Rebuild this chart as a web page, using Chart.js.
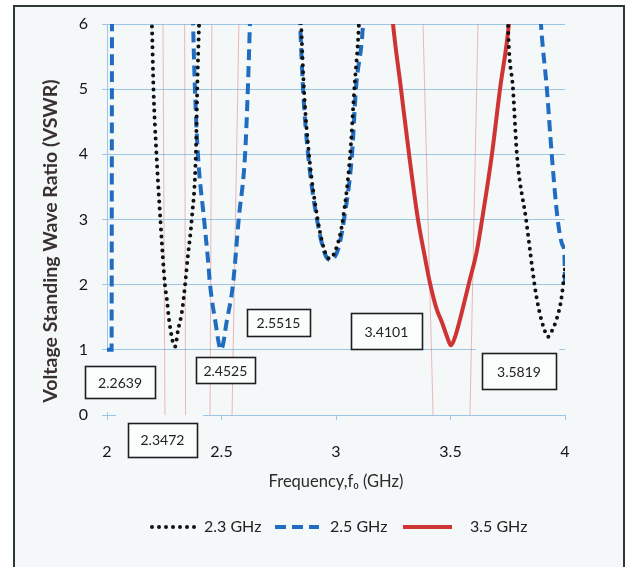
<!DOCTYPE html>
<html>
<head>
<meta charset="utf-8">
<script src="https://cdn.jsdelivr.net/npm/chart.js@4.4.0/dist/chart.umd.min.js"></script>
<style>
  html, body { margin: 0; padding: 0; background: #fff; overflow: hidden; }
  #frame { position: absolute; left: 13px; top: 5px; width: 608px; height: 600px; border: 2px solid #2e3838; background: #f4f8f8; }
  #wrap { position: absolute; left: 0; top: 0; width: 632px; height: 567px; }
</style>
</head>
<body>
<div id="frame"></div>
<div id="wrap"><canvas id="chart" width="632" height="567"></canvas></div>
<script>
// 2.3 GHz design (dotted)
const freq23 = [2.17, 2.196, 2.203, 2.216, 2.233, 2.253, 2.262, 2.271, 2.297, 2.310, 2.328, 2.341, 2.352, 2.370, 2.388, 2.394, 2.402, 2.42,
  2.62, 2.83, 2.848, 2.86, 2.882, 2.92, 2.952, 2.972, 3.005, 3.03, 3.062, 3.08, 3.10, 3.12,
  3.43, 3.74, 3.751, 3.773, 3.79, 3.83, 3.869, 3.886, 3.908, 3.926, 3.948, 3.965, 3.983, 4.0];
const vswr23 = [8, 6, 5, 4, 3, 2, 1.76, 1.46, 1.05, 1.3, 1.6, 2.0, 2.4, 3, 4, 5, 6, 8,
  14, 8, 6, 5, 4, 3, 2.5, 2.4, 2.6, 3, 4, 5, 6, 8,
  14, 8, 6, 5, 4, 3, 1.95, 1.62, 1.33, 1.2, 1.33, 1.49, 1.76, 2.25];

// 2.5 GHz design (dashed)
const freq25 = [2.0, 2.02, 2.022, 2.03, 2.2, 2.37, 2.376, 2.384, 2.397, 2.424, 2.441, 2.45, 2.472, 2.498, 2.524, 2.55, 2.575, 2.603, 2.615, 2.624, 2.64,
  2.73, 2.825, 2.843, 2.856, 2.878, 2.917, 2.952, 2.974, 3.009, 3.035, 3.07, 3.087, 3.118, 3.13,
  3.5, 3.88, 3.895, 3.921, 3.942, 3.968, 3.99, 3.997, 4.0];
const vswr25 = [1.0, 1.0, 6.5, 9, 14, 7, 6, 5, 4, 3, 2.38, 2.0, 1.46, 1.0, 1.46, 2.0, 3, 4, 5, 6, 8,
  14, 7, 6, 5, 4, 3, 2.47, 2.38, 2.54, 3, 4, 5, 6, 7,
  14, 7, 6, 5, 4, 3, 2.6, 2.5, 1.95];

// 3.5 GHz design (solid)
const freq35 = [3.22, 3.249, 3.284, 3.319, 3.358, 3.384, 3.41, 3.44, 3.463, 3.485, 3.502, 3.52, 3.541, 3.565, 3.581, 3.614, 3.638, 3.681, 3.716, 3.755, 3.78];
const vswr35 = [7.2, 6, 5, 4, 3, 2.5, 2.03, 1.62, 1.42, 1.2, 1.07, 1.2, 1.46, 1.8, 2.03, 2.5, 3, 4, 5, 6, 7.2];

// thin red band-edge markers (frequency at top and at bottom of the plot)
const markTop = [2.2445, 2.339, 2.458, 2.576, 3.380, 3.620];
const markBottom = [2.253, 2.343, 2.450, 2.546, 3.424, 3.585];
const markLabels = ['2.2639', '2.3472', '2.4525', '2.5515', '3.4101', '3.5819'];

const xTicks = [2, 2.5, 3, 3.5, 4];
const yTicks = [0, 1, 2, 3, 4, 5, 6];

// label boxes: centre in axis units, size in px
const boxAt = [
  { x: 2.057, y: 0.505, w: 70, h: 32 },
  { x: 2.242, y: -0.383, w: 69, h: 34 },
  { x: 2.517, y: 0.689, w: 59, h: 26 },
  { x: 2.749, y: 1.417, w: 63, h: 27 },
  { x: 3.220, y: 1.286, w: 71, h: 36 },
  { x: 3.799, y: 0.674, w: 74, h: 36 }
];
// spots where the text boxes' white fill hides grid / axis lines (axis units)
const masks = [
  { x0: 1.985, x1: 2.015, y0: 0.04, y1: 0.97 },
  { x0: 2.04, x1: 2.42, y0: -0.04, y1: 0.04 },
  { x0: 3.61, x1: 3.975, y0: 0.97, y1: 1.03 }
];

const BG = '#f4f8f8';
const GRID = '#9cc6e4';
const FONT = 'Lato, "Liberation Sans", sans-serif';
const Y_TITLE = 'Voltage Standing Wave Ratio (VSWR)';

const toPoints = (xs, ys) => xs.map((x, i) => ({ x: x, y: ys[i] }));

const series = [
  { label: '2.3 GHz', data: toPoints(freq23, vswr23), borderColor: '#111111', borderWidth: 4, borderDash: [0, 7], borderCapStyle: 'round' },
  { label: '2.5 GHz', data: toPoints(freq25, vswr25), borderColor: '#1f6cc0', borderWidth: 4, borderDash: [11, 6] },
  { label: '3.5 GHz', data: toPoints(freq35, vswr35), borderColor: '#cf3434', borderWidth: 4 }
].map(d => Object.assign(d, { pointRadius: 0, fill: false, cubicInterpolationMode: 'monotone' }));

const markers = markTop.map((t, i) => ({
  label: '',
  data: [{ x: t, y: 6 }, { x: markBottom[i], y: 0 }],
  borderColor: 'rgba(228,120,120,0.5)',
  borderWidth: 1,
  pointRadius: 0,
  cubicInterpolationMode: 'monotone',
  fill: false
}));

const maskPlugin = {
  id: 'masks',
  beforeDatasetsDraw(chart) {
    const { ctx, scales: { x, y } } = chart;
    ctx.save();
    ctx.fillStyle = BG;
    masks.forEach(m => {
      const l = x.getPixelForValue(m.x0), r = x.getPixelForValue(m.x1);
      const t = y.getPixelForValue(m.y1), b = y.getPixelForValue(m.y0);
      ctx.fillRect(l, t, r - l, b - t);
    });
    ctx.restore();
  }
};

const boxPlugin = {
  id: 'boxes',
  afterDatasetsDraw(chart) {
    const { ctx, scales: { x, y } } = chart;
    ctx.save();
    ctx.font = '14px ' + FONT;
    ctx.textAlign = 'center';
    ctx.textBaseline = 'middle';
    markLabels.forEach((txt, i) => {
      const b = boxAt[i];
      const cx = x.getPixelForValue(b.x), cy = y.getPixelForValue(b.y);
      const l = Math.round(cx - b.w / 2) + 0.5, t = Math.round(cy - b.h / 2) + 0.5;
      ctx.fillStyle = '#fbfdfd';
      ctx.fillRect(l, t, b.w, b.h);
      ctx.lineWidth = 1.6;
      ctx.strokeStyle = '#1b1f1f';
      ctx.strokeRect(l, t, b.w, b.h);
      ctx.fillStyle = '#222';
      ctx.fillText(txt, cx, cy + 1);
    });
    ctx.restore();
  }
};

// legend (line sample + label) and the rotated y title
const keyPlugin = {
  id: 'key',
  afterDraw(chart) {
    const ctx = chart.ctx;
    const spots = [[152, 198, 204], [275, 319, 330], [403, 452, 470]];
    const ky = 527;
    ctx.save();
    ctx.font = '16px ' + FONT;
    ctx.textBaseline = 'middle';
    ctx.fillStyle = '#222';
    series.forEach((d, i) => {
      const [a, b, tx] = spots[i];
      ctx.beginPath();
      ctx.strokeStyle = d.borderColor;
      ctx.lineWidth = d.borderWidth;
      ctx.lineCap = d.borderCapStyle || 'butt';
      ctx.setLineDash(d.borderDash || []);
      ctx.moveTo(a, ky);
      ctx.lineTo(b, ky);
      ctx.stroke();
      ctx.setLineDash([]);
      ctx.fillText(d.label, tx, ky);
    });

    ctx.translate(51, 241);
    ctx.rotate(-Math.PI / 2);
    ctx.font = 'bold 19.5px ' + FONT;
    ctx.textAlign = 'center';
    ctx.fillStyle = '#3a3030';
    ctx.fillText(Y_TITLE, 0, 0);
    ctx.restore();
  }
};

new Chart(document.getElementById('chart'), {
  type: 'line',
  data: { datasets: series.concat(markers) },
  plugins: [maskPlugin, boxPlugin, keyPlugin],
  options: {
    responsive: false,
    animation: false,
    devicePixelRatio: 1,
    events: [],
    layout: { padding: { left: 41, right: 67, top: 24, bottom: 75 } },
    plugins: { legend: { display: false }, tooltip: { enabled: false } },
    scales: {
      x: {
        type: 'linear', min: 2, max: 4,
        afterBuildTicks: s => { s.ticks = xTicks.map(v => ({ value: v })); },
        afterFit: s => { s.height = 77; },
        ticks: { callback: v => String(v), font: { family: FONT, size: 16 }, color: '#151515', padding: 22, maxRotation: 0, autoSkip: false },
        grid: { drawOnChartArea: false, tickLength: 5, color: GRID },
        border: { color: GRID, width: 1 },
        title: { display: true, text: 'Frequency,f\u2080 (GHz)', font: { family: FONT, size: 16.5 }, color: '#2b2b2b', padding: 0 }
      },
      y: {
        min: 0, max: 6,
        afterBuildTicks: s => { s.ticks = yTicks.map(v => ({ value: v })); },
        afterFit: s => { s.width = 66; },
        ticks: { font: { family: FONT, size: 16 }, color: '#151515', padding: 14 },
        grid: { color: GRID, tickLength: 5 },
        border: { color: GRID, width: 1 },
        title: { display: false }
      }
    }
  }
});
</script>
</body>
</html>
